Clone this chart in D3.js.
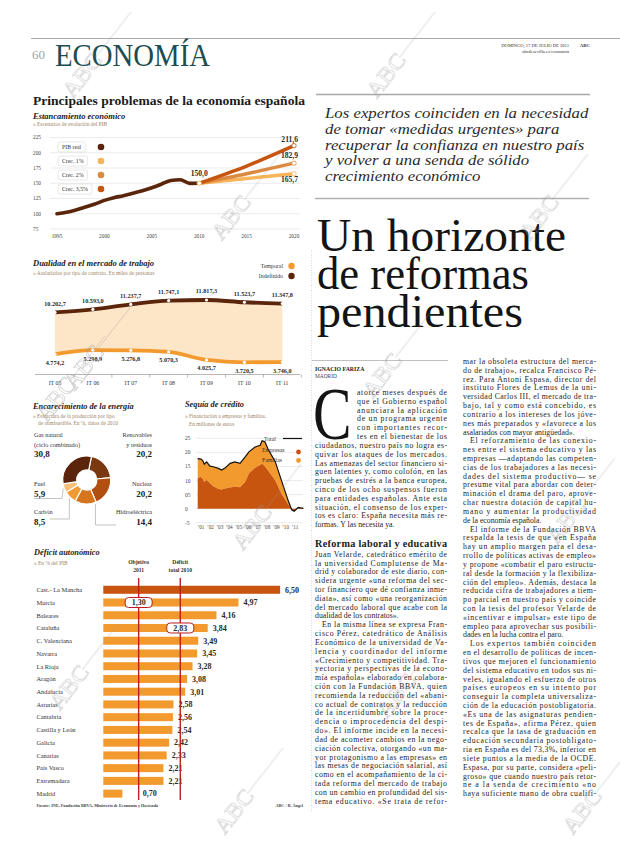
<!DOCTYPE html>
<html><head><meta charset="utf-8">
<script src="https://cdn.jsdelivr.net/npm/d3@7"></script>
<style>
html,body{margin:0;padding:0;background:#fff;}
svg{display:block;}
</style></head><body>
<svg id="page" width="620" height="847"></svg>
<script>
// ---------------- DATA ----------------
const pibYears = [1995,1996,1997,1998,1999,2000,2001,2002,2003,2004,2005,2006,2007,2008,2009,2010];
const pibReal  = [100,102.4,106.3,111,115.9,121.9,126.3,129.6,133.6,137.7,142.6,148.4,154.6,155.8,149.8,150.0];
const scenarioYears = [2010,2015,2020];
const scenarioNames = ["Crec. 1%","Crec. 2%","Crec. 3,5%"];
const scen1  = [150.0,157.7,165.7];
const scen2  = [150.0,165.6,182.9];
const scen35 = [150.0,178.2,211.6];
const pibTicksY = [75,100,125,150,175,200,225];
const pibTicksX = [1995,2000,2005,2010,2015,2020];

const laborCats  = ["IT 05","IT 06","IT 07","IT 08","IT 09","IT 10","IT 11"];
const indefinido = [10202.7,10593.0,11237.7,11747.1,11817.3,11523.7,11347.8];
const temporal   = [4774.2,5298.9,5276.8,5070.3,4025.7,3720.5,3746.0];

const energyNames  = ["Renovables","Nuclear","Hidroeléctrica","Carbón","Fuel","Gas natural"];
const energyValues = [20.2,20.2,14.4,8.5,5.9,30.8];

const creditDates    = [2000.65,2001.0,2001.2,2001.35,2001.6,2001.95,2002.3,2002.85,2003.2,2003.55,2004.1,2004.6,2005.15,2005.7,2006.1,2006.75,2007.3,2007.5,2007.8,2008.15,2008.9,2009.6,2010.3,2010.65,2010.9,2011.35,2011.9];
const creditTotal    = [17.8,17.6,17.0,15.8,16.6,15.1,14.9,14.3,13.7,14.4,16.1,16.6,16.1,18.4,20.2,21.9,22.5,24.1,23.8,21.0,16.7,9.6,2.6,-0.4,-0.9,0.4,0.1];
const creditEmpresas = [11.0,11.2,10.5,9.5,10.2,9.0,8.0,7.0,6.8,7.2,7.5,7.8,7.6,9.5,12.5,14.5,15.5,16.0,15.0,13.5,10.0,5.0,1.5,-0.4,-0.9,0.3,0.1];
const creditTicksY   = [25,20,15,10,5,0,-5];
const creditTickText = ["25","20","15","10","05","0","-5"];
const creditYears    = [2001,2002,2003,2004,2005,2006,2007,2008,2009,2010,2011];

const regions = ["Cast.- La Mancha","Murcia","Baleares","Cataluña","C. Valenciana","Navarra","La Rioja","Aragón","Andalucía","Asturias","Cantabria","Castilla y León","Galicia","Canarias","País Vasco","Extremadura","Madrid"];
const deficit = [6.50,4.97,4.16,3.84,3.49,3.45,3.28,3.08,3.01,2.58,2.56,2.54,2.42,2.33,2.21,2.21,0.70];
const objetivo2011 = 1.30;
const deficitTotal2010 = 2.83;

// ---------------- TEXT ----------------
const standfirst = ["Los expertos coinciden en la necesidad","de tomar «medidas urgentes» para","recuperar la confianza en nuestro país","y volver a una senda de sólido","crecimiento económico"];
const headline = ["Un horizonte","de reformas","pendientes"];
const col1Drop = ["atorce meses después de","que el Gobierno español","anunciara la aplicación","de un programa urgente","con importantes recor-","tes en el bienestar de los"];
const col1P1 = ["ciudadanos, nuestro país no logra es-","quivar los ataques de los mercados.","Las amenazas del sector financiero si-","guen latentes y, como colofón, en las","pruebas de estrés a la banca europea,","cinco de los ocho suspensos fueron","para entidades españolas. Ante esta","situación, el consenso de los exper-","tos es claro: España necesita más re-","formas. Y las necesita ya."];
const subhead = "Reforma laboral y educativa";
const col1P2 = ["Juan Velarde, catedrático emérito de","la universidad Complutense de Ma-","drid y colaborador de este diario, con-","sidera urgente «una reforma del sec-","tor financiero que dé confianza inme-","diata», así como «una reorganización","del mercado laboral que acabe con la","dualidad de los contratos»."];
const col1P3 = ["En la misma línea se expresa Fran-","cisco Pérez, catedrático de Análisis","Económico de la universidad de Va-","lencia y coordinador del informe","«Crecimiento y competitividad. Tra-","yectoria y perspectivas de la econo-","mía española» elaborado en colabora-","ción con la Fundación BBVA, quien","recomienda la reducción del «abani-","co actual de contratos y la reducción","de la incertidumbre sobre la proce-","dencia o improcedencia del despi-","do». El informe incide en la necesi-","dad de acometer cambios en la nego-","ciación colectiva, otorgando «un ma-","yor protagonismo a las empresas» en","las mesas de negociación salarial, así","como en el acompañamiento de la ci-","tada reforma del mercado de trabajo","con un cambio en profundidad del sis-","tema educativo. «Se trata de refor-"];
const col2Paras = [
 ["mar la obsoleta estructura del merca-","do de trabajo», recalca Francisco Pé-","rez. Para Antoni Espasa, director del","instituto Flores de Lemus de la uni-","versidad Carlos III, el mercado de tra-","bajo, tal y como está concebido, es","contrario a los intereses de los jóve-","nes más preparados y «favorece a los","asalariados con mayor antigüedad»."],
 ["El reforzamiento de las conexio-","nes entre el sistema educativo y las","empresas —adaptando las competen-","cias de los trabajadores a las necesi-","dades del sistema productivo— se","presume vital para abordar con deter-","minación el drama del paro, aprove-","char nuestra dotación de capital hu-","mano y aumentar la productividad","de la economía española."],
 ["El informe de la Fundación BBVA","respalda la tesis de que «en España","hay un amplio margen para el desa-","rrollo de políticas activas de empleo»","y propone «combatir el paro estructu-","ral desde la formación y la flexibiliza-","ción del empleo». Además, destaca la","reducida cifra de trabajadores a tiem-","po parcial en nuestro país y coincide","con la tesis del profesor Velarde de","«incentivar e impulsar» este tipo de","empleo para aprovechar sus posibili-","dades en la lucha contra el paro."],
 ["Los expertos también coinciden","en el desarrollo de políticas de incen-","tivos que mejoren el funcionamiento","del sistema educativo en todos sus ni-","veles, igualando el esfuerzo de otros","países europeos en su intento por","conseguir la completa universaliza-","ción de la educación postobligatoria.","«Es una de las asignaturas pendien-","tes de España», afirma Pérez, quien","recalca que la tasa de graduación en","educación secundaria postobligato-","ria en España es del 73,3%, inferior en","siete puntos a la media de la OCDE.","Espasa, por su parte, considera «peli-","groso» que cuando nuestro país retor-","ne a la senda de crecimiento «no","haya suficiente mano de obra cualifi-"]
];

// ---------------- HELPERS ----------------
const SERIF = "'Liberation Serif','DejaVu Serif',serif";
const C = {dark:"#5a250b", brown:"#7a3811", dorange:"#c7540f", orange:"#f39a2e", lorange:"#f7b458", peach:"#fde6c8", mid:"#dc8a40", grid:"#dedede", sub:"#a08466", red:"#b8201f"};
const svg = d3.select("#page");
svg.append("rect").attr("width",620).attr("height",847).attr("fill","#fff");

function txt(g,x,y,s,o={}){
  const t=g.append("text").attr("x",x).attr("y",y).text(s)
    .attr("font-family",o.family||SERIF).attr("font-size",o.size||6).attr("fill",o.fill||"#222");
  if(o.weight) t.attr("font-weight",o.weight);
  if(o.style) t.attr("font-style",o.style);
  if(o.anchor) t.attr("text-anchor",o.anchor);
  if(o.len) t.attr("textLength",o.len).attr("lengthAdjust",o.adj||"spacingAndGlyphs");
  return t;
}

// ---------------- HEADER ----------------
const hdr = svg.append("g");
hdr.append("line").attr("x1",31).attr("x2",620).attr("y1",38.5).attr("y2",38.5).attr("stroke","#a9a9a9").attr("stroke-width",1.2);
txt(hdr,32,59,"60",{size:13,fill:"#9aa69e"});
txt(hdr,55,66,"ECONOMÍA",{size:32,fill:"#1c4d50",len:155});
txt(hdr,569,46.5,"DOMINGO, 17 DE JULIO DE 2011",{size:4.6,anchor:"end",fill:"#333"});
txt(hdr,590,46.5,"ABC",{size:4.8,anchor:"end",weight:"bold",fill:"#333"});
txt(hdr,569,52.5,"abcdesevilla.es/economia",{size:4.6,anchor:"end",fill:"#333"});
hdr.append("line").attr("x1",316).attr("x2",590).attr("y1",94.5).attr("y2",94.5).attr("stroke","#a9a9a9").attr("stroke-width",1.5);
svg.append("line").attr("x1",311.5).attr("x2",311.5).attr("y1",250).attr("y2",812).attr("stroke","#c8c8c8").attr("stroke-width",0.7).attr("stroke-dasharray","1,1.5");

txt(svg,33,105,"Principales problemas de la economía española",{size:12.3,weight:"bold",fill:"#1a1a1a",len:272});

// ---------------- CHART 1: PIB ----------------
const g1 = svg.append("g");
txt(g1,33,118.5,"Estancamiento económico",{size:8.5,weight:"bold",style:"italic",fill:"#222"});
txt(g1,33,125.5,"» Escenarios de evolución del PIB",{size:5.4,fill:C.sub});
const x1 = d3.scaleLinear().domain([1995,2020]).range([57,294]);
const y1 = d3.scaleLinear().domain([75,225]).range([229,137.5]);
pibTicksY.forEach(v=>{
  g1.append("line").attr("x1",50).attr("x2",300).attr("y1",y1(v)).attr("y2",y1(v)).attr("stroke",C.grid).attr("stroke-width",0.6);
  txt(g1,33,y1(v)+1.8,String(v),{size:5.3,fill:"#444"});
});
pibTicksX.forEach(v=> txt(g1,x1(v),237.5,String(v),{size:5.3,fill:"#444",anchor:"middle"}));
const line1 = d3.line().x(d=>x1(d[0])).y(d=>y1(d[1])).curve(d3.curveMonotoneX);
const scen = [{n:scenarioNames[0],v:scen1,c:C.lorange},{n:scenarioNames[1],v:scen2,c:C.mid},{n:scenarioNames[2],v:scen35,c:C.dorange}];
scen.forEach(s=>{
  g1.append("path").attr("d",line1(scenarioYears.map((y,i)=>[y,s.v[i]]))).attr("fill","none").attr("stroke",s.c).attr("stroke-width",3.4).attr("stroke-linecap","round");
});
g1.append("path").attr("d",line1(pibYears.map((y,i)=>[y,pibReal[i]]))).attr("fill","none").attr("stroke",C.dark).attr("stroke-width",3.6).attr("stroke-linecap","round");
g1.append("circle").attr("cx",x1(2010)).attr("cy",y1(150)).attr("r",2.2).attr("fill","#fff").attr("stroke",C.lorange).attr("stroke-width",0.8);
scen.forEach(s=>{
  g1.append("circle").attr("cx",x1(2020)).attr("cy",y1(s.v[2])).attr("r",2.2).attr("fill","#fff").attr("stroke",s.c).attr("stroke-width",0.8);
});
txt(g1,x1(2010),y1(150)-7,"150,0",{size:7.6,weight:"bold",anchor:"middle",fill:"#2a2a2a"});
txt(g1,x1(2020)+4,y1(211.6)-4,"211,6",{size:7.6,weight:"bold",anchor:"end",fill:"#2a2a2a"});
txt(g1,x1(2020)+4,y1(182.9)-5,"182,9",{size:7.6,weight:"bold",anchor:"end",fill:"#2a2a2a"});
txt(g1,x1(2020)+4,y1(165.7)+8,"165,7",{size:7.6,weight:"bold",anchor:"end",fill:"#2a2a2a"});
const leg1 = [{n:"PIB real",c:C.dark}].concat(scen.map(s=>({n:s.n,c:s.c})));
leg1.forEach((l,i)=>{
  const yy = 147 + i*14;
  const t = txt(g1,62,yy+2,l.n,{size:5.8,fill:"#333"});
  const w = t.node().getComputedTextLength();
  g1.insert("rect",()=>t.node()).attr("x",58).attr("y",yy-5).attr("width",w+8).attr("height",10).attr("rx",2).attr("fill","#fff").attr("stroke","#d0d0d0").attr("stroke-width",0.5);
  g1.append("circle").attr("cx",101).attr("cy",yy).attr("r",3.3).attr("fill",l.c);
});

// ---------------- CHART 2: labour ----------------
const g2 = svg.append("g");
txt(g2,33,266,"Dualidad en el mercado de trabajo",{size:8.5,weight:"bold",style:"italic",fill:"#222"});
txt(g2,33,275,"» Asalariados por tipo de contrato. En miles de personas",{size:5.4,fill:C.sub});
txt(g2,283,268,"Temporal",{size:5.8,anchor:"end",fill:"#333"});
g2.append("circle").attr("cx",291.5).attr("cy",266).attr("r",3.2).attr("fill",C.orange);
txt(g2,283,278,"Indefinido",{size:5.8,anchor:"end",fill:"#333"});
g2.append("circle").attr("cx",291.5).attr("cy",276).attr("r",3.2).attr("fill",C.dark);
const x2 = d3.scalePoint().domain(laborCats).range([55,282.3]);
const y2 = d3.scaleLinear().domain([0,13000]).range([390.9,290.9]);
const lab = laborCats.map((c,i)=>({c,ind:indefinido[i],tem:temporal[i]}));
g2.append("path").attr("d",d3.area().x(d=>x2(d.c)).y0(d=>y2(d.tem)).y1(d=>y2(d.ind)).curve(d3.curveMonotoneX)(lab)).attr("fill",C.peach);
g2.append("path").attr("d",d3.line().x(d=>x2(d.c)).y(d=>y2(d.ind)).curve(d3.curveMonotoneX)(lab)).attr("fill","none").attr("stroke",C.dark).attr("stroke-width",3.8);
g2.append("path").attr("d",d3.line().x(d=>x2(d.c)).y(d=>y2(d.tem)).curve(d3.curveMonotoneX)(lab)).attr("fill","none").attr("stroke",C.orange).attr("stroke-width",3.8);
const fmtES = v => d3.format(",.1f")(v).replace(/,/g,"#").replace(".",",").replace(/#/g,".");
lab.forEach(d=>{
  g2.append("circle").attr("cx",x2(d.c)).attr("cy",y2(d.ind)).attr("r",1.6).attr("fill","#fff");
  g2.append("circle").attr("cx",x2(d.c)).attr("cy",y2(d.tem)).attr("r",1.6).attr("fill","#fff");
  txt(g2,x2(d.c),y2(d.ind)-6.5,fmtES(d.ind),{size:6.2,weight:"bold",anchor:"middle",fill:"#2a2a2a"});
  txt(g2,x2(d.c),y2(d.tem)+10.5,fmtES(d.tem),{size:6.2,weight:"bold",anchor:"middle",fill:"#2a2a2a"});
});
g2.append("line").attr("x1",35).attr("x2",300).attr("y1",374.5).attr("y2",374.5).attr("stroke","#888").attr("stroke-width",0.6);
laborCats.forEach((c,i)=>{
  g2.append("line").attr("x1",x2(c)+19).attr("x2",x2(c)+19).attr("y1",374.5).attr("y2",377.5).attr("stroke","#888").attr("stroke-width",0.6);
  txt(g2,x2(c),385,c,{size:5.8,anchor:"middle",fill:"#333"});
});

// ---------------- CHART 3: energy ----------------
const g3 = svg.append("g");
txt(g3,33,409,"Encarecimiento de la energía",{size:8.3,weight:"bold",style:"italic",fill:"#222"});
txt(g3,33,417.5,"» Estructura de la producción por tipo",{size:5.4,fill:C.sub});
txt(g3,38,425,"de combustible. En %, datos de 2010",{size:5.4,fill:C.sub});
const eCol = [C.brown,"#b24e10","#d7751f","#f19a33","#f8c07a",C.dark];
const cx3=86.7, cy3=480;
const pie = d3.pie().sort(null).startAngle(0.2).endAngle(0.2+2*Math.PI);
const arcs = pie(energyValues);
const arc = d3.arc().innerRadius(10).outerRadius(24);
g3.selectAll("path.sl").data(arcs).enter().append("path").attr("class","sl")
  .attr("transform",`translate(${cx3},${cy3})`).attr("d",arc).attr("fill",(d,i)=>eCol[i]).attr("stroke","#fff").attr("stroke-width",1.2);
const fmtP = v => String(v.toFixed(1)).replace(".",",");
const outer = a => [cx3+25*Math.sin((a.startAngle+a.endAngle)/2), cy3-25*Math.cos((a.startAngle+a.endAngle)/2)];
const lead = (pts)=>g3.append("path").attr("d",d3.line()(pts)).attr("fill","none").attr("stroke","#aaa").attr("stroke-width",0.7);
let p;
p = outer(arcs[4]); lead([[34,498.5],[62,498.5],p]);
p = outer(arcs[3]); lead([[50,519],[p[0],519],p]);
p = outer(arcs[2]); lead([[p[0]+10,p[1]-1],[p[0]+10,525],[116,525]]);
const eL = (x,y,lines,val,anchor)=>{
  lines.forEach((l,i)=>txt(g3,x,y+i*9.5,l,{size:6.3,anchor,fill:"#333"}));
  txt(g3,x,y+lines.length*9.5+1,val,{size:9,weight:"bold",anchor,fill:"#222"});
};
eL(34,437,[energyNames[5],"(ciclo combinado)"],fmtP(energyValues[5]),"start");
eL(152,437,[energyNames[0],"y residuos"],fmtP(energyValues[0]),"end");
eL(34,486,[energyNames[4]],fmtP(energyValues[4]),"start");
eL(152,486,[energyNames[1]],fmtP(energyValues[1]),"end");
eL(34,514,[energyNames[3]],fmtP(energyValues[3]),"start");
eL(152,514,[energyNames[2]],fmtP(energyValues[2]),"end");

// ---------------- CHART 4: credit ----------------
const g4 = svg.append("g");
txt(g4,185,407,"Sequía de crédito",{size:8.3,weight:"bold",style:"italic",fill:"#222"});
txt(g4,185,418,"» Financiación a empresas y familias.",{size:5.4,fill:C.sub});
txt(g4,189,425.5,"En millones de euros",{size:5.4,fill:C.sub});
const x4 = d3.scaleLinear().domain([2001,2011]).range([201,295]);
const y4 = d3.scaleLinear().domain([-5,25]).range([522.7,438.3]);
creditTicksY.forEach((v,i)=>{
  g4.append("line").attr("x1",196).attr("x2",303).attr("y1",y4(v)).attr("y2",y4(v)).attr("stroke",C.grid).attr("stroke-width",0.6);
  txt(g4,185,y4(v)+2,creditTickText[i],{size:5.4,fill:"#444"});
});
const cd = creditDates.map((t,i)=>({t,tot:creditTotal[i],emp:creditEmpresas[i]}));
g4.append("path").attr("d",d3.area().x(d=>x4(d.t)).y0(d=>y4(d.emp)).y1(d=>y4(d.tot))(cd)).attr("fill",C.orange);
g4.append("path").attr("d",d3.area().x(d=>x4(d.t)).y0(y4(0)).y1(d=>y4(d.emp))(cd)).attr("fill",C.dorange);
g4.append("path").attr("d",d3.line().x(d=>x4(d.t)).y(d=>y4(d.tot))(cd)).attr("fill","none").attr("stroke","#111").attr("stroke-width",1.2);
creditYears.forEach(yr=> txt(g4,x4(yr),529,"’"+String(yr).slice(2),{size:5.2,anchor:"middle",fill:"#444"}));
txt(g4,264,440.5,"Total",{size:5.8,fill:"#333"});
g4.append("line").attr("x1",283).attr("x2",302).attr("y1",438.5).attr("y2",438.5).attr("stroke","#111").attr("stroke-width",1.2);
txt(g4,262,452,"Empresas",{size:5.8,fill:"#333"});
g4.append("circle").attr("cx",298.5).attr("cy",452).attr("r",2.4).attr("fill",C.dorange);
txt(g4,262,461.5,"Familias",{size:5.8,fill:"#333"});
g4.append("circle").attr("cx",298.5).attr("cy",460.5).attr("r",2.4).attr("fill",C.orange);

// ---------------- CHART 5: deficit ----------------
const g5 = svg.append("g");
txt(g5,34,555,"Déficit autonómico",{size:8.3,weight:"bold",style:"italic",fill:"#222"});
txt(g5,34,565,"» En % del PIB",{size:5.4,fill:C.sub});
const x5 = d3.scaleLinear().domain([0,7]).range([103.3,293.7]);
const y5 = d3.scaleBand().domain(regions).range([583.4,800]).paddingInner(0.37).paddingOuter(0.185);
const fmt2 = v => v.toFixed(2).replace(".",",");
regions.forEach((r,i)=>{
  const yy = y5(r), bh = y5.bandwidth();
  g5.append("rect").attr("x",x5(0)).attr("y",yy).attr("width",x5(deficit[i])-x5(0)).attr("height",bh).attr("fill",i===0?C.dorange:C.orange);
  txt(g5,36.5,yy+bh/2+2.3,r,{size:6.4,fill:"#333"});
  let lx = x5(deficit[i])+5;
  if(lx < x5(objetivo2011)+3) lx = x5(objetivo2011)+4;
  txt(g5,lx,yy+bh/2+2.8,fmt2(deficit[i]),{size:8,weight:"bold",fill:"#2a2a2a"});
});
[[objetivo2011,"Objetivo","2011",regions[1]],[deficitTotal2010,"Déficit","total 2010",regions[3]]].forEach(([v,a,b,row])=>{
  const xx = x5(v);
  g5.append("line").attr("x1",xx).attr("x2",xx).attr("y1",578).attr("y2",800).attr("stroke",C.red).attr("stroke-width",1.4);
  txt(g5,xx,563.5,a,{size:5.6,weight:"bold",anchor:"middle",fill:"#333"});
  txt(g5,xx,572,b,{size:5.6,weight:"bold",anchor:"middle",fill:"#333"});
  const cy = y5(row)+y5.bandwidth()/2;
  g5.append("rect").attr("x",xx-13.5).attr("y",cy-5).attr("width",27).attr("height",10).attr("rx",3.5).attr("fill","#fff").attr("stroke",C.red).attr("stroke-width",1);
  txt(g5,xx,cy+2.8,fmt2(v),{size:8,weight:"bold",anchor:"middle",fill:"#2a2a2a"});
});
txt(g5,36.5,807,"Fuente: INE, Fundación BBVA, Ministerio de Economía y Hacienda",{size:4.2,fill:"#444",weight:"bold"});
txt(g5,303,807,"ABC / B. Ángel",{size:4.2,fill:"#444",weight:"bold",anchor:"end"});

// ---------------- ARTICLE ----------------
const ga = svg.append("g");
const sf = ga.append("g").attr("transform","translate(325,0) scale(1.12,1)");
standfirst.forEach((l,i)=> txt(sf,0,118.5+i*15.6,l,{size:15,style:"italic",fill:"#2a2a2a"}));
ga.append("line").attr("x1",315).attr("x2",589).attr("y1",198.5).attr("y2",198.5).attr("stroke","#b0b0b0").attr("stroke-width",1.4);
const hlLen = [249,212,206];
headline.forEach((l,i)=> txt(ga,317,251+i*38,l,{size:47,fill:"#141414",len:hlLen[i]}));
ga.append("line").attr("x1",312).attr("x2",448).attr("y1",360.5).attr("y2",360.5).attr("stroke","#b0b0b0").attr("stroke-width",0.8);
txt(ga,315,371,"IGNACIO FARIZA",{size:5.8,weight:"bold",fill:"#222"});
txt(ga,315,378,"MADRID",{size:5.4,fill:"#444"});

const BF = 7.8, LH = 8.82;
function bline(x,y,w,s,justify){
  const t = txt(ga,x,y,s,{size:BF,fill:"#1e1e1e"});
  if(justify) t.attr("textLength",w).attr("lengthAdjust","spacing");
}
const c1x=315, c1w=132;
let yy = 395;
txt(ga,313,yy+5*LH,"C",{size:74,fill:"#141414"}).attr("transform",`translate(${313*0.22},0) scale(0.78,1)`);
col1Drop.forEach((l,i)=>bline(357,yy+i*LH,c1w-(357-c1x),l,true));
col1P1.forEach((l,i)=>bline(c1x,yy+(6+i)*LH,c1w,l,i<col1P1.length-1));
txt(ga,c1x,546.5,subhead,{size:10.2,weight:"bold",fill:"#1a1a1a",len:c1w,adj:"spacing"});
yy = 556.7;
col1P2.forEach((l,i)=>bline(c1x,yy+i*LH,c1w,l,i<col1P2.length-1));
col1P3.forEach((l,i)=>bline(c1x+(i===0?7:0),yy+(col1P2.length+i)*LH,c1w-(i===0?7:0),l,true));
const c2x=463, c2w=133;
let k=0;
col2Paras.forEach((para,pi)=>{
  para.forEach((l,i)=>{
    const ind = (pi>0 && i===0)?7:0;
    bline(c2x+ind,364+k*LH,c2w-ind,l,i<para.length-1 || pi===col2Paras.length-1);
    k++;
  });
});

// ---------------- WATERMARKS ----------------
const marks = [[88,80],[392,80],[237,222],[545,222],[90,372],[388,380],[62,404],[258,532],[572,526],[75,692],[402,700],[240,816],[588,816]];
const wm = svg.append("g").attr("opacity",0.55);
marks.forEach(([x,y])=>{
  const g = wm.append("g").attr("transform",`translate(${x},${y}) rotate(-52)`);
  g.append("text").attr("x",0).attr("y",0).attr("text-anchor","middle").attr("font-family",SERIF).attr("font-size",24)
    .attr("fill","none").attr("stroke","#9a9a9a").attr("stroke-width",0.6).text("ABC");
  g.append("line").attr("x1",22).attr("x2",80).attr("y1",-8).attr("y2",-8).attr("stroke","#9a9a9a").attr("stroke-width",0.6);
});
</script>
</body></html>
